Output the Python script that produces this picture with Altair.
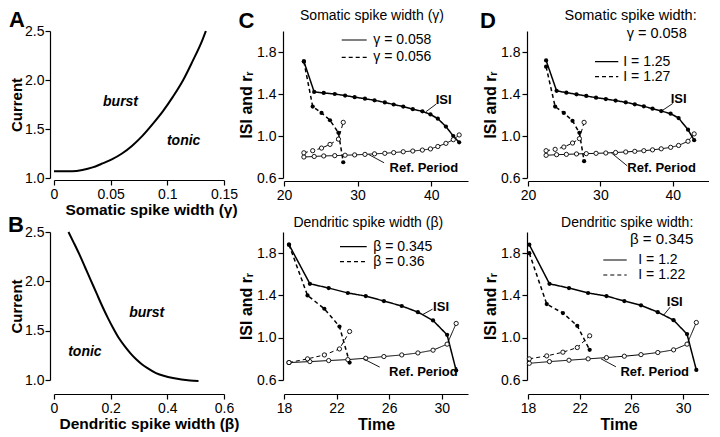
import altair as alt
import pandas as pd

FONT = "Liberation Sans"

# ---------------- data ----------------
# Panel A: burst / tonic boundary vs somatic spike width
a_gamma = [0.000, 0.010, 0.016, 0.025, 0.034, 0.042, 0.051, 0.060, 0.069,
           0.078, 0.087, 0.096, 0.105, 0.114, 0.122, 0.131, 0.134]
a_current = [1.068, 1.068, 1.069, 1.082, 1.108, 1.145, 1.190, 1.250, 1.330,
             1.430, 1.550, 1.680, 1.830, 2.000, 2.185, 2.410, 2.500]
# Panel B: burst / tonic boundary vs dendritic spike width
b_beta = [0.051, 0.07, 0.09, 0.11, 0.13, 0.15, 0.17, 0.19, 0.21, 0.23, 0.25,
          0.27, 0.29, 0.31, 0.33, 0.36, 0.39, 0.42, 0.45, 0.48, 0.51]
b_current = [2.50, 2.39, 2.27, 2.14, 2.01, 1.88, 1.75, 1.63, 1.52, 1.42, 1.34,
             1.27, 1.21, 1.16, 1.12, 1.07, 1.04, 1.02, 1.005, 0.995, 0.99]
region_names = ["burst", "tonic"]
a_region_x = [0.0587, 0.1144]
a_region_y = [1.778, 1.377]
b_region_x = [0.327, 0.109]
b_region_y = [1.68, 1.28]

# Panel C top (somatic spike width gamma)
c1_t_solid = [22.7, 24.1, 25.4, 26.9, 28.3, 29.6, 31.0, 32.3, 33.7, 34.9, 36.2,
              37.5, 38.8, 39.9, 40.9, 42.0, 43.0, 43.8]
c1_isi_solid = [1.71, 1.42, 1.41, 1.40, 1.385, 1.37, 1.355, 1.34, 1.32, 1.30, 1.28,
                1.255, 1.235, 1.205, 1.165, 1.09, 1.00, 0.94]
c1_ref_solid = [0.80, 0.805, 0.81, 0.813, 0.817, 0.82, 0.825, 0.83, 0.835, 0.842, 0.85,
                0.857, 0.866, 0.877, 0.90, 0.93, 0.965, 1.01]
c1_t_dash = [22.7, 23.9, 25.1, 26.25, 27.4, 28.05]
c1_isi_dash = [1.71, 1.28, 1.22, 1.15, 1.03, 0.75]
c1_ref_dash = [0.84, 0.86, 0.885, 0.92, 0.97, 1.13]

# Panel D top (somatic, gamma = 0.058, two currents)
d1_t_solid = [22.5, 23.95, 25.3, 26.7, 28.05, 29.4, 30.75, 32.1, 33.5, 34.75, 36.0,
              37.2, 38.4, 39.7, 40.8, 42.1, 42.95]
d1_isi_solid = [1.72, 1.43, 1.413, 1.397, 1.381, 1.365, 1.352, 1.337, 1.321, 1.302, 1.283,
                1.26, 1.238, 1.213, 1.171, 1.06, 0.96]
d1_ref_solid = [0.816, 0.822, 0.825, 0.829, 0.832, 0.835, 0.838, 0.843, 0.848, 0.854, 0.86,
                0.868, 0.878, 0.892, 0.91, 0.95, 1.02]
d1_t_dash = [22.5, 23.75, 24.95, 26.15, 27.1, 27.75]
d1_isi_dash = [1.66, 1.28, 1.22, 1.145, 1.03, 0.76]
d1_ref_dash = [0.86, 0.873, 0.895, 0.933, 0.975, 1.13]

# Panel C bottom (dendritic spike width beta)
c2_t_solid = [18.38, 19.97, 21.40, 22.86, 24.22, 25.60, 26.96, 28.19, 29.34, 30.41, 31.10]
c2_isi_solid = [1.88, 1.51, 1.47, 1.423, 1.394, 1.347, 1.30, 1.242, 1.163, 1.027, 0.69]
c2_ref_solid = [0.765, 0.774, 0.784, 0.793, 0.806, 0.822, 0.837, 0.856, 0.882, 0.939, 1.135]
c2_t_dash = [18.38, 19.79, 21.07, 22.22, 22.99]
c2_isi_dash = [1.88, 1.40, 1.274, 1.106, 0.765]
c2_ref_dash = [0.765, 0.80, 0.837, 0.894, 1.059]

# Panel D bottom (dendritic, beta = 0.345, two currents)
d2_t_solid = [18.1, 19.66, 21.17, 22.65, 24.07, 25.45, 26.74, 28.04, 29.26, 30.3, 31.02]
d2_isi_solid = [1.88, 1.51, 1.47, 1.423, 1.394, 1.347, 1.306, 1.242, 1.166, 1.034, 0.695]
d2_ref_solid = [0.758, 0.774, 0.787, 0.80, 0.812, 0.825, 0.84, 0.86, 0.885, 0.939, 1.144]
d2_t_dash = [18.1, 19.45, 20.7, 21.81, 22.77]
d2_isi_dash = [1.80, 1.318, 1.233, 1.113, 0.885]
d2_ref_dash = [0.80, 0.828, 0.863, 0.907, 1.018]

# curve annotations (data coordinates)
annot_labels = ["ISI", "Ref. Period"]
c1_annot = dict(x=[41.7, 39.0], y=[1.345, 0.70], x1=[39.3, 31.5], y1=[1.232, 0.824], x2=[40.7, 33.6], y2=[1.305, 0.745])
d1_annot = dict(x=[40.8, 38.45], y=[1.348, 0.70], x1=[38.6, 31.5], y1=[1.245, 0.84], x2=[40.0, 33.7], y2=[1.31, 0.716])
c2_annot = dict(x=[29.95, 28.6], y=[1.293, 0.68], x1=[28.55, 24.05], y1=[1.219, 0.80], x2=[29.3, 25.28], y2=[1.27, 0.722])
d2_annot = dict(x=[29.35, 27.8], y=[1.34, 0.68], x1=[28.5, 23.65], y1=[1.215, 0.80], x2=[29.0, 24.8], y2=[1.29, 0.725])

c1_legend = ["\u03b3 = 0.058", "\u03b3 = 0.056"]
c2_legend = ["\u03b2 = 0.345", "\u03b2 = 0.36"]
d1_legend = ["I = 1.25", "I = 1.27"]
d2_legend = ["I = 1.2", "I = 1.22"]

a_xticks = [0, 0.05, 0.1, 0.15]
b_xticks = [0, 0.1, 0.2, 0.3, 0.4, 0.5, 0.6]
ab_yticks = [1.0, 1.5, 2.0, 2.5]
isi_yticks = [0.6, 0.8, 1.0, 1.2, 1.4, 1.6, 1.8, 2.0]
top_xticks = [20, 25, 30, 35, 40, 45]
bot_xticks = [18, 20, 22, 24, 26, 28, 30, 32]

DASHES = [[1, 0], [4, 3]]


def text_at(s, x, y, size, weight="normal", align="center", style="normal"):
    return alt.Chart(pd.DataFrame({"s": [s]})).mark_text(
        font=FONT, fontSize=size, fontWeight=weight, fontStyle=style,
        align=align, baseline="middle", color="black"
    ).encode(x=alt.value(x), y=alt.value(y), text="s:N")


def legend_rows(labels, x1, x2, tx, ys):
    out = []
    for lab, dash, y in zip(labels, DASHES, ys):
        df = pd.DataFrame({"s": [lab]})
        out.append(alt.Chart(df).mark_rule(color="black", strokeWidth=1.2, strokeDash=dash)
                   .encode(x=alt.value(x1), x2=alt.value(x2), y=alt.value(y)))
        out.append(text_at(lab, tx, y, 14, align="left"))
    return out


def curve_panel(xs, ys, xdom, xticks, xlabel_expr, xtitle, title_x, width, height,
                xoffset, rx, ry, letter, lx, ly):
    df = pd.DataFrame({"x": xs, "y": ys})
    line = alt.Chart(df).mark_line(color="black", strokeWidth=2, interpolate="monotone").encode(
        x=alt.X("x:Q", scale=alt.Scale(domain=xdom, nice=False, zero=False),
                axis=alt.Axis(values=xticks, labelExpr=xlabel_expr, title=xtitle, offset=xoffset,
                              titleFontSize=15.5, titleFontWeight="bold", titlePadding=1,
                              titleX=title_x, titleAlign="center")),
        y=alt.Y("y:Q", scale=alt.Scale(domain=[1.0, 2.5], nice=False, zero=False),
                axis=alt.Axis(values=ab_yticks, format=".1f", title="Current", offset=4,
                              labelPadding=1, titleFontSize=15, titleFontWeight="bold",
                              titlePadding=0)),
    )
    rdf = pd.DataFrame({"s": region_names, "x": rx, "y": ry})
    regions = alt.Chart(rdf).mark_text(font=FONT, fontSize=14, fontWeight="bold",
                                       fontStyle="italic", color="black").encode(
        x="x:Q", y="y:Q", text="s:N")
    return alt.layer(line, regions, text_at(letter, lx, ly, 22, weight="bold")).properties(
        width=width, height=height)


def ts_panel(t_s, isi_s, ref_s, t_d, isi_d, ref_d, xdom, xticks, xlabel_expr, xtitle,
             width, height, xoffset, annot, extra):
    rows = []
    for style, tt, isi, ref in (("solid", t_s, isi_s, ref_s), ("dash", t_d, isi_d, ref_d)):
        for kind, vals in (("ISI", isi), ("Ref", ref)):
            for i, (t, v) in enumerate(zip(tt, vals)):
                rows.append({"t": t, "v": v, "idx": i, "style": style, "kind": kind,
                             "grp": style + kind})
    df = pd.DataFrame(rows)
    xaxis = dict(values=xticks, labelExpr=xlabel_expr, offset=xoffset, title=xtitle,
                 titleFontSize=16, titleFontWeight="bold", titlePadding=1)
    xenc = alt.X("t:Q", scale=alt.Scale(domain=xdom, nice=False, zero=False),
                 axis=alt.Axis(**xaxis))
    yenc = alt.Y("v:Q", scale=alt.Scale(domain=[0.6, 2.0], nice=False, zero=False),
                 axis=alt.Axis(values=isi_yticks,
                               labelExpr="(round(datum.value*10) % 4 == 2) ? format(datum.value, '.1f') : ''",
                               title="ISI and r\u1d63", offset=1, titleFontSize=16,
                               titleFontWeight="bold", titlePadding=2))
    base = alt.Chart(df)
    lines = base.mark_line(color="black").encode(
        x=xenc, y=yenc, detail="grp:N", order="idx:Q",
        strokeDash=alt.StrokeDash("style:N", scale=alt.Scale(domain=["solid", "dash"], range=DASHES),
                                  legend=None),
        strokeWidth=alt.StrokeWidth("kind:N", scale=alt.Scale(domain=["ISI", "Ref"], range=[1.5, 1.0]),
                                    legend=None),
    )
    isi_pts = base.transform_filter(alt.datum.kind == "ISI").mark_circle(
        size=18, color="black", opacity=1).encode(x="t:Q", y="v:Q")
    ref_pts = base.transform_filter(alt.datum.kind == "Ref").mark_point(
        shape="circle", size=18, filled=True, fill="white", stroke="black",
        strokeWidth=0.9, opacity=1).encode(x="t:Q", y="v:Q")
    adf = pd.DataFrame({"s": annot_labels, "x": annot["x"], "y": annot["y"],
                        "x1": annot["x1"], "y1": annot["y1"], "x2": annot["x2"], "y2": annot["y2"]})
    leaders = alt.Chart(adf).mark_rule(color="black", strokeWidth=0.9).encode(
        x="x1:Q", y="y1:Q", x2="x2:Q", y2="y2:Q")
    atext = alt.Chart(adf).mark_text(font=FONT, fontSize=13, fontWeight="bold",
                                     color="black").encode(x="x:Q", y="y:Q", text="s:N")
    return alt.layer(lines, isi_pts, ref_pts, leaders, atext, *extra).properties(
        width=width, height=height)


top_x_expr = "(datum.value % 10 == 0 && datum.value < 45) ? format(datum.value, 'd') : ''"
bot_x_expr = "format(datum.value, 'd')"

A = curve_panel(a_gamma, a_current, [0, 0.15], a_xticks, "format(datum.value, '~g')",
                "Somatic spike width (\u03b3)", 97, 170, 147, 2,
                a_region_x, a_region_y, "A", -37, -11)
B = curve_panel(b_beta, b_current, [0, 0.6], b_xticks,
                "(round(datum.value*10) % 2 == 0) ? format(datum.value, '~g') : ''",
                "Dendritic spike width (\u03b2)", 95, 170, 148, 14,
                b_region_x, b_region_y, "B", -38, -7.5)

C1 = ts_panel(c1_t_solid, c1_isi_solid, c1_ref_solid, c1_t_dash, c1_isi_dash, c1_ref_dash,
              [20, 45], top_xticks, top_x_expr, None, 184, 147, 3, c1_annot,
              [text_at("C", -37.5, -10, 22, weight="bold"),
               text_at("Somatic spike width (\u03b3)", 88, -15, 14)]
              + legend_rows(c1_legend, 57.7, 82.7, 89.3, [9, 26.3]))
C2 = ts_panel(c2_t_solid, c2_isi_solid, c2_ref_solid, c2_t_dash, c2_isi_dash, c2_ref_dash,
              [18, 32], bot_xticks, bot_x_expr, "Time", 184, 148, 14, c2_annot,
              [text_at("Dendritic spike width (\u03b2)", 84.3, -8.7, 14)]
              + legend_rows(c2_legend, 56, 82.7, 89.3, [14.7, 29.7]))
D1 = ts_panel(d1_t_solid, d1_isi_solid, d1_ref_solid, d1_t_dash, d1_isi_dash, d1_ref_dash,
              [20, 45], top_xticks, top_x_expr, None, 181, 147, 3, d1_annot,
              [text_at("D", -40, -10, 22, weight="bold"),
               text_at("Somatic spike width:", 168.7, -15, 14.5, align="right"),
               text_at("\u03b3 = 0.058", 158.7, 3, 14.5, align="right")]
              + legend_rows(d1_legend, 67, 90.3, 95.3, [30.7, 45.7]))
D2 = ts_panel(d2_t_solid, d2_isi_solid, d2_ref_solid, d2_t_dash, d2_isi_dash, d2_ref_dash,
              [18, 32], bot_xticks, bot_x_expr, "Time", 181, 148, 14, d2_annot,
              [text_at("Dendritic spike width:", 165.3, -8.7, 14, align="right"),
               text_at("\u03b2 = 0.345", 165.3, 7, 15, align="right")]
              + legend_rows(d2_legend, 75.3, 98.7, 110.3, [28, 43]))

chart = alt.concat(
    A, C1, D1, B, C2, D2, columns=3, spacing={"row": 54, "column": 60}, bounds="flush"
).resolve_scale(
    x="independent", y="independent"
).properties(
    padding={"left": 0, "top": 0, "right": 0, "bottom": 0}
).configure_view(stroke=None).configure_axis(
    domainColor="black", domainWidth=1.2, tickColor="black", tickWidth=1.2, tickSize=5,
    labelColor="black", titleColor="black", labelFont=FONT, titleFont=FONT,
    labelFontSize=14, grid=False, labelFlush=False, labelOverlap=False, labelPadding=2
).configure_text(font=FONT)

chart.save("out.html", embed_options={"renderer": "svg", "actions": False})
